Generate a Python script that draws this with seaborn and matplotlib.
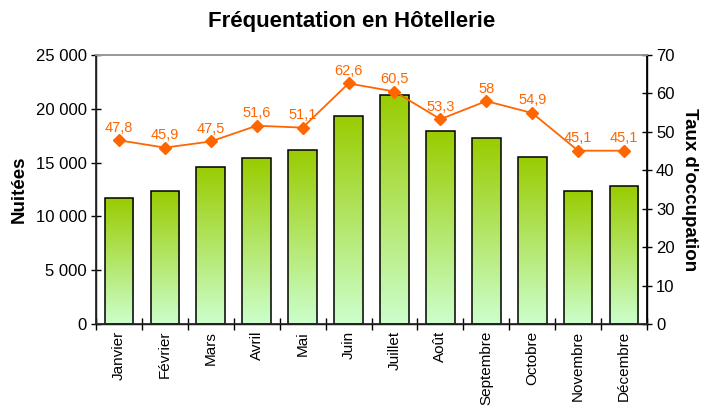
"""Fréquentation en hôtellerie: nuitées (barres) et taux d'occupation (ligne)."""

import matplotlib
matplotlib.use("Agg")
import matplotlib.pyplot as plt
import matplotlib.ticker as mticker
import numpy as np
import pandas as pd
import seaborn as sns
from matplotlib.colors import LinearSegmentedColormap

months = ["Janvier", "Février", "Mars", "Avril", "Mai", "Juin", "Juillet",
          "Août", "Septembre", "Octobre", "Novembre", "Décembre"]
nuitees = [11700, 12400, 14600, 15400, 16200, 19350, 21300,
           17900, 17250, 15550, 12400, 12800]
taux = [47.8, 45.9, 47.5, 51.6, 51.1, 62.6, 60.5, 53.3, 58, 54.9, 45.1, 45.1]
taux_labels = ["47,8", "45,9", "47,5", "51,6", "51,1", "62,6", "60,5",
               "53,3", "58", "54,9", "45,1", "45,1"]

sns.set_theme(style="ticks", rc={"text.color": "black", "axes.labelcolor": "black",
                                 "xtick.color": "black", "ytick.color": "black"})
plt.rcParams["font.family"] = ["Liberation Sans", "DejaVu Sans"]

df = pd.DataFrame({"mois": months, "nuitees": nuitees, "taux": taux})

fig = plt.figure(figsize=(7.04, 4.07), dpi=100)
ax = fig.add_axes([96 / 704, 1 - 324 / 407, (647 - 96) / 704, (324 - 55) / 407])

sns.barplot(data=df, x="mois", y="nuitees", ax=ax, width=0.625,
            color="#99cc00", edgecolor="black", linewidth=1.1)

# gradient fill clipped to each bar
cmap = LinearSegmentedColormap.from_list("grad", ["#ccffcc", "#99cc00"])
grad = np.linspace(0, 1, 256).reshape(-1, 1)
for patch in ax.patches:
    x0, y0 = patch.get_x(), patch.get_y()
    w, h = patch.get_width(), patch.get_height()
    im = ax.imshow(grad, cmap=cmap, aspect="auto", origin="lower",
                   extent=[x0, x0 + w, y0, y0 + h], zorder=patch.get_zorder() - 0.1)
    im.set_clip_path(patch)
    patch.set_facecolor("none")

ax.set_xlim(-0.5, len(months) - 0.5)
ax.set_ylim(0, 25000)
ax.yaxis.set_major_locator(mticker.MultipleLocator(5000))
ax.yaxis.set_major_formatter(
    mticker.FuncFormatter(lambda v, _: f"{int(v):,}".replace(",", " ")))
ax.set_xticks(range(len(months)))
ax.set_xticklabels(months, rotation=90)
ax.set_xticks(np.arange(-0.5, len(months), 1), minor=True)
ax.tick_params(axis="x", which="major", length=0, labelsize=11, pad=5)
ax.tick_params(axis="x", which="minor", direction="inout", length=8, width=1, color="black")
ax.tick_params(axis="y", direction="inout", length=7, width=1, color="black",
               labelsize=12, labelcolor="black", pad=3)
ax.set_xlabel("")
ax.set_ylabel("Nuitées", fontsize=13.5, fontweight="bold", labelpad=6)

for side in ["left", "bottom", "right"]:
    ax.spines[side].set_color("black")
    ax.spines[side].set_linewidth(1)
ax.spines["top"].set_color("#999999")

ax2 = ax.twinx()
ax2.plot(range(len(months)), taux, color="#ff6600", marker="D",
         markersize=6, linewidth=1.3)
for i, (v, lab) in enumerate(zip(taux, taux_labels)):
    ax2.annotate(lab, (i, v), xytext=(0, 4), textcoords="offset points",
                 ha="center", va="bottom", color="#ff6600", fontsize=10.5)
ax2.set_ylim(0, 70)
ax2.yaxis.set_major_locator(mticker.MultipleLocator(10))
ax2.tick_params(axis="y", direction="inout", length=7, width=1, color="black",
                labelsize=12, labelcolor="black", pad=3)
ax2.set_ylabel("Taux d'occupation", fontsize=13.5, fontweight="bold",
               rotation=270, labelpad=17, color="black")
ax2.spines["top"].set_color("#999999")
ax2.spines["right"].set_color("black")

fig.suptitle("Fréquentation en Hôtellerie", fontsize=16, fontweight="bold",
             y=1 - 21 / 407, va="center", color="black")

fig.savefig("out.png", dpi=100)
